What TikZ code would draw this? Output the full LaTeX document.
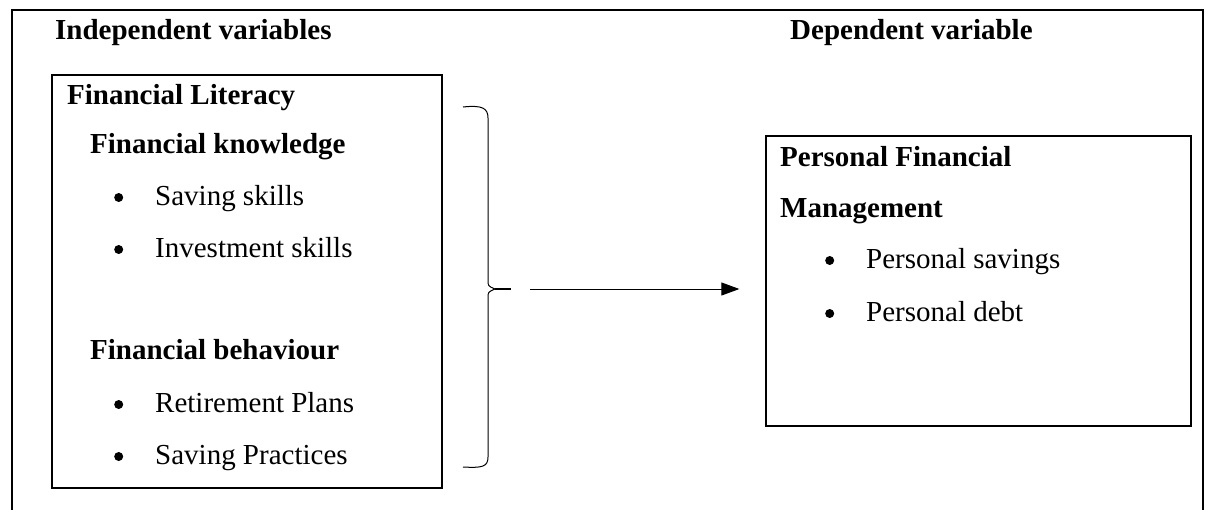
\documentclass[tikz,border=0pt]{standalone}
\usepackage{fontspec}
\setmainfont{Liberation Serif}
\usetikzlibrary{arrows.meta}

\tikzset{
  txt/.style={anchor=base west, inner sep=0pt, font=\fontsize{29}{34}\selectfont},
  head/.style={txt, font=\fontsize{29}{34}\selectfont\bfseries},
  box/.style={draw, line width=1.3pt, inner sep=0pt}
}
\newcommand{\bul}{\makebox[41pt][l]{\raisebox{3pt}{\tikz\fill (0,0) circle (4.5pt);}}}

\begin{document}
\begin{tikzpicture}[x=1pt,y=-1pt]
  \useasboundingbox (0,0) rectangle (1206,509);
  % outer frame, open at the bottom
  \draw[line width=1.3pt] (12,530)--(12,10)--(1203,10)--(1203,530);
  \node[head] (iv) at (55,39) {Independent variables};
  \node[head] (dv) at (790,39) {Dependent variable};

  % left box
  \node[box, minimum width=390pt, minimum height=413pt] (lit) at (247,281.5) {};
  \node[head] (fl) at (67,104) {Financial Literacy};
  \node[head] (fk) at (90,153) {Financial knowledge};
  \node[txt] (ss) at (114,205) {\bul Saving skills};
  \node[txt] (is) at (114,257) {\bul Investment skills};
  \node[head] (fb) at (90,359) {Financial behaviour};
  \node[txt] (rp) at (114,412) {\bul Retirement Plans};
  \node[txt] (sp) at (114,464) {\bul Saving Practices};

  % right box
  \node[box, minimum width=425pt, minimum height=290pt] (pfm) at (978.5,281) {};
  \node[head] (pf) at (780,166) {Personal Financial};
  \node[head] (mg) at (780,217) {Management};
  \node[txt] (ps) at (825,268) {\bul Personal savings};
  \node[txt] (pd) at (825,321) {\bul Personal debt};

  % brace
  \draw[line width=1pt] (463,107) .. controls (482,105) and (488,108) .. (488,118)
    -- (488,280) .. controls (488,286) .. (495,289)
    .. controls (488,292) .. (488,298) -- (488,457)
    .. controls (488,467) and (482,468) .. (463,467);
  \coordinate (tip) at (495,289);
  \draw[line width=1.3pt] (tip) -- (511,289);

  % arrow
  \draw[line width=1pt, -{Triangle[length=18pt,width=13pt]}, shorten <=35pt, shorten >=26pt]
    (tip) -- (tip -| pfm.west);
\end{tikzpicture}
\end{document}
